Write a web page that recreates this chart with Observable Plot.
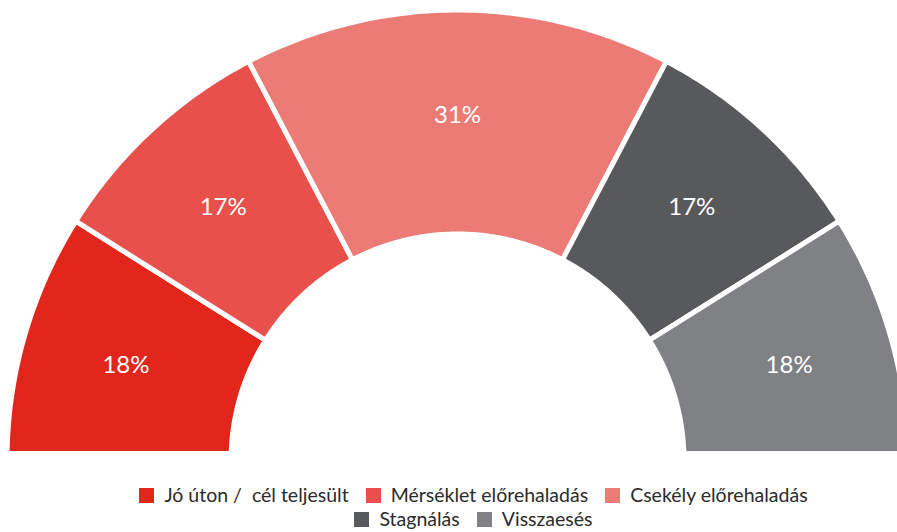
<!DOCTYPE html>
<html>
<head>
<meta charset="utf-8">
<script src="https://cdn.jsdelivr.net/npm/d3@7"></script>
<script src="https://cdn.jsdelivr.net/npm/@observablehq/plot@0.6"></script>
<style>
  html, body { margin: 0; padding: 0; background: #fff; }
  body { width: 897px; height: 532px; overflow: hidden; font-family: Lato, "Open Sans", sans-serif; }
  #chart svg { display: block; }
  #legend { width: 897px; margin-top: 32px; font-size: 19.5px; line-height: 24px; color: #2b2b2b; position: relative; left: 25px; }
  .row { display: flex; justify-content: center; column-gap: 17px; }
  .item { display: flex; align-items: center; white-space: pre; }
  .sw { width: 15px; height: 15px; margin-right: 10px; display: inline-block; }
</style>
</head>
<body>
<div id="chart"></div>
<div id="legend"></div>
<script>
const categories = ["Jó úton /  cél teljesült", "Mérséklet előrehaladás", "Csekély előrehaladás", "Stagnálás", "Visszaesés"];
const values = [18, 17, 31, 17, 18];
const labels = ["18%", "17%", "31%", "17%", "18%"];
const colors = ["#e1261c", "#e8514b", "#ed7b75", "#58595b", "#808184"];
const legendRows = [[0, 1, 2], [3, 4]];

const W = 897, H = 451;
const R = 450.5, r = 226.5, labelR = 345;

const arcs = d3.pie().sort(null).startAngle(-Math.PI / 2).endAngle(Math.PI / 2)(values);

const poly = [];
const text = [];
arcs.forEach((a, i) => {
  const n = 80;
  for (let k = 0; k <= n; k++) {
    const t = a.startAngle + (a.endAngle - a.startAngle) * k / n;
    poly.push({cat: categories[i], x: R * Math.sin(t), y: R * Math.cos(t)});
  }
  for (let k = n; k >= 0; k--) {
    const t = a.startAngle + (a.endAngle - a.startAngle) * k / n;
    poly.push({cat: categories[i], x: r * Math.sin(t), y: r * Math.cos(t)});
  }
  const m = (a.startAngle + a.endAngle) / 2;
  text.push({label: labels[i], x: labelR * Math.sin(m), y: labelR * Math.cos(m)});
});

const chart = Plot.plot({
  width: W,
  height: H,
  margin: 0,
  x: {domain: [-457, 440], range: [0, W], axis: null},
  y: {domain: [9, 460], range: [H, 0], axis: null},
  color: {domain: categories, range: colors},
  style: {background: "white"},
  marks: [
    Plot.line(poly, {x: "x", y: "y", z: "cat", fill: "cat", stroke: "white", strokeWidth: 5, curve: "linear-closed", clip: true}),
    Plot.text(text, {x: "x", y: "y", text: "label", fill: "white", fontSize: 24, fontFamily: "Lato, 'Open Sans', sans-serif"})
  ]
});
document.getElementById("chart").appendChild(chart);

const legend = document.getElementById("legend");
legendRows.forEach(row => {
  const rd = document.createElement("div");
  rd.className = "row";
  row.forEach(i => {
    const it = document.createElement("div");
    it.className = "item";
    const sw = document.createElement("span");
    sw.className = "sw";
    sw.style.background = colors[i];
    it.appendChild(sw);
    it.appendChild(document.createTextNode(categories[i]));
    rd.appendChild(it);
  });
  legend.appendChild(rd);
});
</script>
</body>
</html>
